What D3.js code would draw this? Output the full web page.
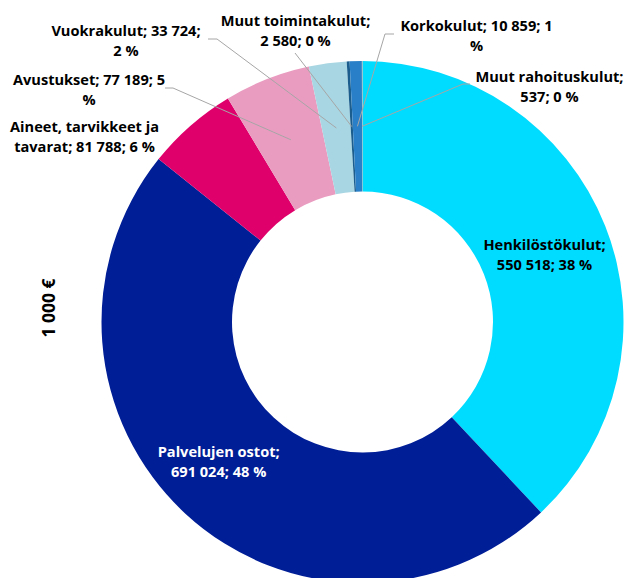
<!DOCTYPE html>
<html>
<head>
<meta charset="utf-8">
<script src="https://cdn.jsdelivr.net/npm/d3@7"></script>
<style>
  body { margin: 0; background: #fff; }
  text { font-family: "Open Sans", sans-serif; font-weight: bold; }
</style>
</head>
<body>
<div class="donutdiv"></div>
<script>

// data
var categories = ["Henkilöstökulut", "Palvelujen ostot", "Aineet, tarvikkeet ja tavarat",
  "Avustukset", "Vuokrakulut", "Muut toimintakulut", "Korkokulut", "Muut rahoituskulut"];
var values = [550518, 691024, 81788, 77189, 33724, 2580, 10859, 537];
var colors = ["#00DCFF", "#001E96", "#E0006B", "#EA9CC0", "#A8D6E2", "#1B5E8E", "#2A80C8", "#A5A5A5"];
var unitLabel = "1 000 €";

// label layout: words on first line, label centre (or shift from centroid), leader start
var firstLineWords = [1, 2, 3, 4, 3, 2, 4, 2];
var labelPos = [null, null, [84.5, 132], [89, 85], [126, 36], [295.5, 26], [476.5, 31], [549.5, 82]];
var labelShift = [[0, 0], [-11, -9]];
var leaderFrom = [null, null, null, [[165, 88], [173, 88]], [[208, 39], [217, 39]],
  [[295, 53]], [[394, 34], [385, 34]], [[470, 84], [463, 84]]];

var width = 624, height = 578;
var cx = 362.5, cy = 322;
var outerR = 261, innerR = 130.5;
var lineH = 20;

var fi = d3.formatLocale({decimal: ",", thousands: " ", grouping: [3], currency: ["", " €"]});
var fmt = fi.format(",d");

var total = d3.sum(values);
var data = categories.map(function(c, i) {
  return {name: c, value: values[i], color: colors[i], i: i};
});

var svg = d3.select(".donutdiv")
    .append("svg")
    .attr("width", width)
    .attr("height", height);

var g = svg.append("g")
    .attr("transform", "translate(" + cx + "," + cy + ")");

var pie = d3.pie()
    .sort(null)
    .value(function(d) { return d.value; });

var arc = d3.arc()
    .innerRadius(innerR)
    .outerRadius(outerR);

var arcs = pie(data);

g.selectAll("path.slice")
    .data(arcs)
  .enter().append("path")
    .attr("class", "slice")
    .attr("d", arc)
    .attr("fill", function(d) { return d.data.color; });

// leader lines
arcs.forEach(function(a) {
  var from = leaderFrom[a.data.i];
  if (!from) return;
  var c = arc.centroid(a);
  var pts = from.map(function(p) { return [p[0] - cx, p[1] - cy]; });
  pts.push(c);
  g.append("path")
      .attr("d", d3.line()(pts))
      .attr("fill", "none")
      .attr("stroke", "#A6A6A6")
      .attr("stroke-width", 1);
});

// labels
arcs.forEach(function(a) {
  var d = a.data;
  var pct = Math.round(d.value / total * 100);
  var words = (d.name + "; " + fmt(d.value) + "; " + pct + " %").split(" ");
  var n = firstLineWords[d.i];
  var lines = [words.slice(0, n).join(" "), words.slice(n).join(" ")];
  var x, y;
  if (labelPos[d.i]) {
    x = labelPos[d.i][0] - cx;
    y = labelPos[d.i][1] - cy;
  } else {
    var c = arc.centroid(a);
    x = c[0] + labelShift[d.i][0];
    y = c[1] + labelShift[d.i][1];
  }
  var t = g.append("text")
      .attr("text-anchor", "middle")
      .attr("font-size", "14.6px")
      .attr("fill", d.i === 1 ? "#fff" : "#000");
  lines.forEach(function(l, k) {
    t.append("tspan")
        .attr("x", x)
        .attr("y", y + k * lineH)
        .text(l);
  });
});

// unit title
svg.append("text")
    .attr("transform", "translate(55,308) rotate(-90)")
    .attr("text-anchor", "middle")
    .attr("font-size", "17.5px")
    .attr("fill", "#000")
    .text(unitLabel);

</script>
</body>
</html>
